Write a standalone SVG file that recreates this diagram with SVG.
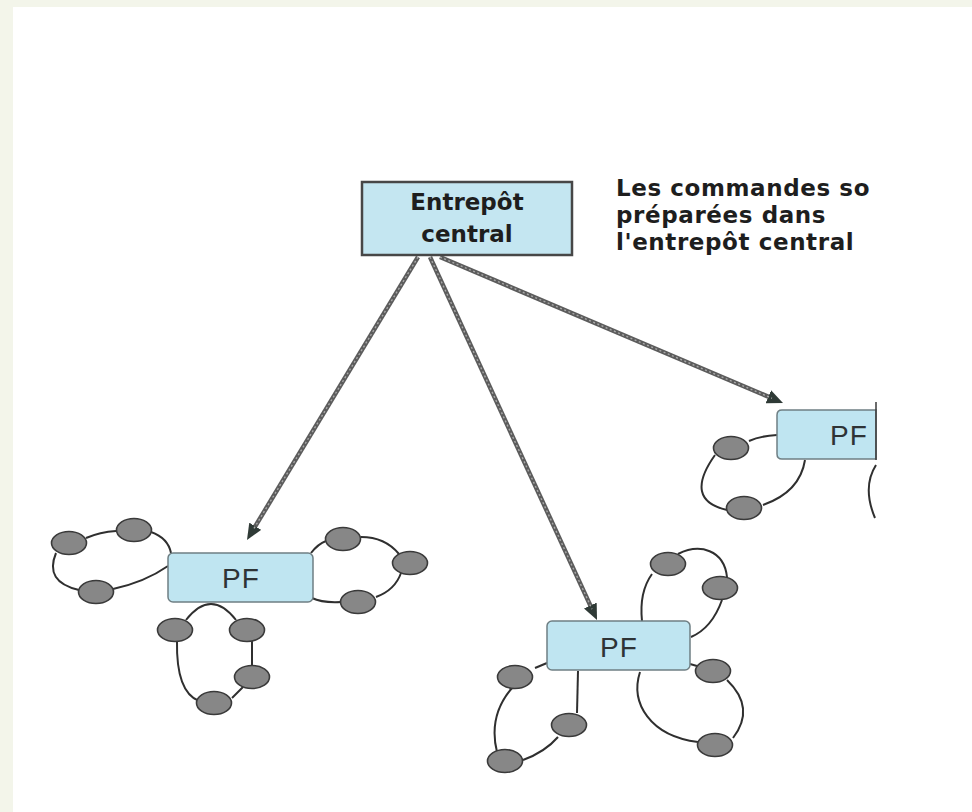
<svg xmlns="http://www.w3.org/2000/svg" width="972" height="812" viewBox="0 0 972 812">
<style>
.bg{fill:#f3f5ea}
.page{fill:#ffffff}
.box{fill:#bfe5f1;stroke:#6f7f84;stroke-width:1.5}
.mainbox{fill:#c4e6f1;stroke:#474747;stroke-width:2.5}
.title{font-family:"DejaVu Sans",sans-serif;font-weight:bold;font-size:23px;fill:#1e1e1e}
.note{letter-spacing:0.6px}
.pf{font-family:"Liberation Sans",Arial,sans-serif;font-size:28px;fill:#2e3336;text-anchor:middle;letter-spacing:1px}
.site{fill:#878787;stroke:#3a3a3a;stroke-width:1.6}
.loop{fill:none;stroke:#2f2f2f;stroke-width:2}
.shaft{fill:none;stroke:#5c5c5c;stroke-width:4.5}
.tex{fill:none;stroke:#a8a8a8;stroke-width:1.4;stroke-dasharray:2 2.5}
</style>
<defs>
<marker id="ah" markerUnits="userSpaceOnUse" markerWidth="16" markerHeight="14" viewBox="0 0 16 14" refX="4" refY="7" orient="auto">
<path d="M0,0 L16,7 L0,14 z" fill="#2f3a36"/>
</marker>
</defs>
<rect class="bg" x="0" y="0" width="972" height="812"/>
<rect class="page" x="13" y="7" width="959" height="805"/>

<g id="connectors">
<path class="shaft" d="M418,257 L253.2,529.7" marker-end="url(#ah)"/>
<path class="tex" d="M418,257 L253.2,529.7"/>
<path class="shaft" d="M430,257 L592,609.1" marker-end="url(#ah)"/>
<path class="tex" d="M430,257 L592,609.1"/>
<path class="shaft" d="M440,257 L772,398.3" marker-end="url(#ah)"/>
<path class="tex" d="M440,257 L772,398.3"/>
</g>

<g id="entrepot">
<rect class="mainbox" x="362" y="182" width="210" height="73"/>
<text class="title" x="467" y="210" text-anchor="middle">Entrepôt</text>
<text class="title" x="467" y="242" text-anchor="middle">central</text>
</g>

<g id="note">
<text class="title note" x="616" y="196">Les commandes so</text>
<text class="title note" x="616" y="223">préparées dans</text>
<text class="title note" x="616" y="250">l'entrepôt central</text>
</g>

<g id="pf-left">
<path class="loop" d="M151,532 Q168,538 171,553"/>
<path class="loop" d="M86,538 Q100,532 116,531"/>
<path class="loop" d="M56,553 Q44,582 79,590"/>
<path class="loop" d="M113,589 Q145,582 168,566"/>
<path class="loop" d="M311,553 Q318,544 326,541"/>
<path class="loop" d="M361,537 Q385,537 399,554"/>
<path class="loop" d="M401,573 Q395,590 376,597"/>
<path class="loop" d="M341,602 Q322,603 312,598"/>
<path class="loop" d="M186,620 Q211,588 236,620"/>
<path class="loop" d="M252,641 L252,665"/>
<path class="loop" d="M243,687 L232,698"/>
<path class="loop" d="M177,641 Q176,692 199,701"/>
<rect class="box" x="168" y="553" width="145" height="49" rx="5"/>
<text class="pf" x="241" y="588">PF</text>
<ellipse class="site" cx="69" cy="543" rx="17.5" ry="11.5"/>
<ellipse class="site" cx="134" cy="530" rx="17.5" ry="11.5"/>
<ellipse class="site" cx="96" cy="592" rx="17.5" ry="11.5"/>
<ellipse class="site" cx="343" cy="539" rx="17.5" ry="11.5"/>
<ellipse class="site" cx="410" cy="563" rx="17.5" ry="11.5"/>
<ellipse class="site" cx="358" cy="602" rx="17.5" ry="11.5"/>
<ellipse class="site" cx="175" cy="630" rx="17.5" ry="11.5"/>
<ellipse class="site" cx="247" cy="630" rx="17.5" ry="11.5"/>
<ellipse class="site" cx="252" cy="677" rx="17.5" ry="11.5"/>
<ellipse class="site" cx="214" cy="703" rx="17.5" ry="11.5"/>
</g>

<g id="pf-center">
<path class="loop" d="M642,621 Q639,592 652,574"/>
<path class="loop" d="M678,554 C700,543 724,550 727,577"/>
<path class="loop" d="M722,600 Q712,628 691,637"/>
<path class="loop" d="M690,664 L697,666"/>
<path class="loop" d="M727,680 Q756,708 733,738"/>
<path class="loop" d="M640,672 C630,703 650,736 698,742"/>
<path class="loop" d="M547,663 L535,668"/>
<path class="loop" d="M512,688 Q488,716 497,752"/>
<path class="loop" d="M523,760 Q545,752 558,737"/>
<path class="loop" d="M577,713 L578,671"/>
<rect class="box" x="547" y="621" width="143" height="49" rx="5"/>
<text class="pf" x="619" y="657">PF</text>
<ellipse class="site" cx="668" cy="564" rx="17.5" ry="11.5"/>
<ellipse class="site" cx="720" cy="588" rx="17.5" ry="11.5"/>
<ellipse class="site" cx="515" cy="677" rx="17.5" ry="11.5"/>
<ellipse class="site" cx="569" cy="725" rx="17.5" ry="11.5"/>
<ellipse class="site" cx="505" cy="761" rx="17.5" ry="11.5"/>
<ellipse class="site" cx="713" cy="671" rx="17.5" ry="11.5"/>
<ellipse class="site" cx="715" cy="745" rx="17.5" ry="11.5"/>
</g>

<g id="pf-right">
<path class="loop" d="M749,441 Q760,436 777,435"/>
<path class="loop" d="M715,455 Q683,500 727,510"/>
<path class="loop" d="M763,505 Q800,492 805,460"/>
<path class="loop" d="M876,465 Q862,487 875,518"/>
<path class="box" d="M876,410 H782 Q777,410 777,415 V454 Q777,459 782,459 H876 Z"/>
<line x1="876" y1="402" x2="876" y2="460" stroke="#3a3a3a" stroke-width="1.5"/>
<text class="pf" x="849" y="445">PF</text>
<ellipse class="site" cx="731" cy="448" rx="17.5" ry="11.5"/>
<ellipse class="site" cx="744" cy="508" rx="17.5" ry="11.5"/>
</g>
</svg>
